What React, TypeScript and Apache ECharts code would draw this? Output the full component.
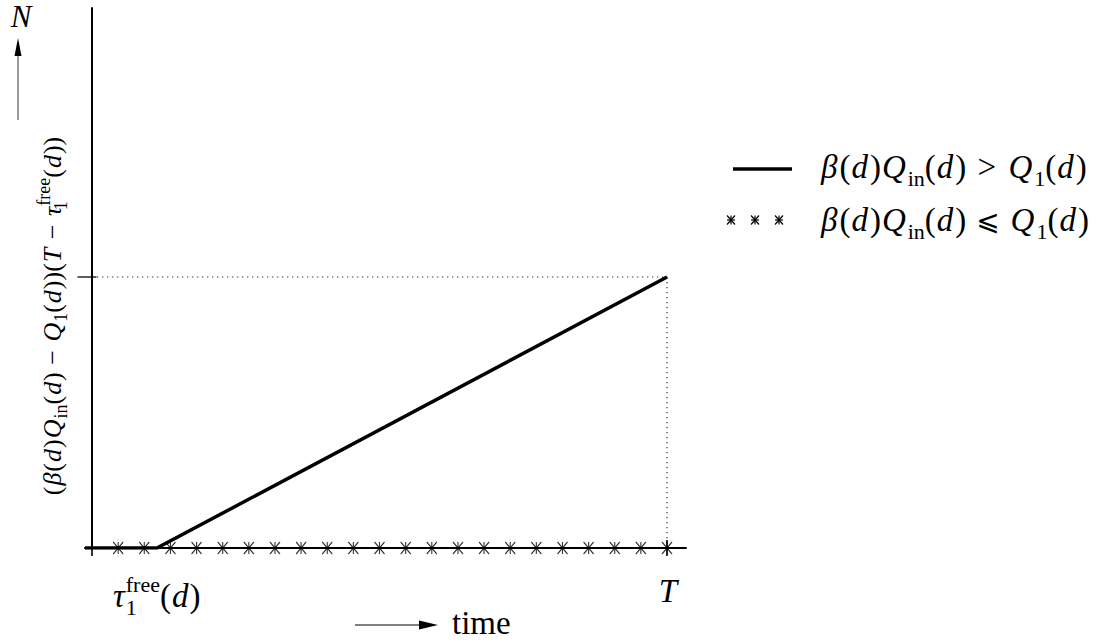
import React, { useEffect, useRef } from "react";
import * as echarts from "echarts";

// ---- data (normalised units: time 0..T, N scaled so that N(T) = 1) ----
const xRange = [-0.0122, 1.033];
const yRange = [0, 1.9926];
const tauFree = 0.113; // tau_1^free(d)
const horizonT = 1; // T
const levelAtT = 1; // (beta Q_in - Q_1)(T - tau)
const solidX = [xRange[0], tauFree, horizonT];
const solidY = [0, 0, levelAtT];
const markerX = [
  0.0455, 0.0909, 0.1364, 0.1818, 0.2273, 0.2727, 0.3182, 0.3636, 0.4091,
  0.4545, 0.5, 0.5455, 0.5909, 0.6364, 0.6818, 0.7273, 0.7727, 0.8182,
  0.8636, 0.9091, 0.9545, 1.0,
];
const markerY = markerX.map(() => 0);
const guideX = [0, horizonT, horizonT];
const guideY = [levelAtT, levelAtT, 0];
const xTicks = [0, horizonT];
const yTicks = [levelAtT];

const F = "Liberation Serif";
const FALLBACK = "DejaVu Sans";
const STAR = "path://M0,0L10,12M10,0L0,12M5,0L5,12M0,6L10,6";

function richFor(fs: number, pad: number[], relPad: number) {
  const H = Math.round(fs * 1.36);
  const small = Math.round(fs * 0.68);
  const sl = Math.round(fs * 0.6);
  return {
    i: { fontFamily: F, fontStyle: "italic", fontSize: fs, lineHeight: H, padding: pad, color: "#000" },
    r: { fontFamily: F, fontSize: fs, lineHeight: H, color: "#000" },
    rel: { fontFamily: F, fontSize: fs, lineHeight: H, padding: [0, relPad, 0, relPad], color: "#000" },
    relx: { fontFamily: FALLBACK, fontSize: Math.round(fs * 0.85), lineHeight: H, padding: [0, relPad, 0, relPad], color: "#000" },
    sub: { fontFamily: F, fontSize: small, lineHeight: sl, verticalAlign: "bottom", color: "#000" },
    subz: { fontFamily: F, fontSize: small, lineHeight: sl, verticalAlign: "bottom", width: 0, color: "#000" },
    sup: { fontFamily: F, fontSize: small, lineHeight: sl, verticalAlign: "top", color: "#000" },
  };
}

function starGroup(cx: number, cy: number, w: number, h: number) {
  const s = { stroke: "#000", lineWidth: 1.2 };
  return [
    { type: "line", shape: { x1: cx - w / 2, y1: cy - h / 2, x2: cx + w / 2, y2: cy + h / 2 }, style: s },
    { type: "line", shape: { x1: cx + w / 2, y1: cy - h / 2, x2: cx - w / 2, y2: cy + h / 2 }, style: s },
    { type: "line", shape: { x1: cx, y1: cy - h / 2, x2: cx, y2: cy + h / 2 }, style: s },
    { type: "line", shape: { x1: cx - w / 2, y1: cy, x2: cx + w / 2, y2: cy }, style: s },
  ];
}

export default function App() {
  const ref = useRef<HTMLDivElement>(null);
  useEffect(() => {
    document.body.style.margin = "0";
    const chart = echarts.init(ref.current!, null, { renderer: "svg" });
    const fs = 33;
    const option: any = {
      animation: false,
      backgroundColor: "#fff",
      grid: { left: 85, top: 8, width: 601, height: 540, containLabel: false },
      xAxis: {
        type: "value",
        min: xRange[0],
        max: xRange[1],
        axisLine: { show: true, onZero: true, lineStyle: { color: "#000", width: 2 } },
        axisTick: { show: false },
        axisLabel: { show: false },
        splitLine: { show: false },
      },
      yAxis: {
        type: "value",
        min: yRange[0],
        max: yRange[1],
        axisLine: { show: true, onZero: true, lineStyle: { color: "#000", width: 2 } },
        axisTick: { show: false },
        axisLabel: { show: false },
        splitLine: { show: false },
      },
      series: [
        {
          name: "guides",
          type: "line",
          data: guideX.map((x, i) => [x, guideY[i]]),
          symbol: "none",
          lineStyle: { color: "#333", width: 1.2, type: [1.3, 3.7] },
          z: 1,
        },
        {
          name: "β(d)Q_in(d) > Q_1(d)",
          type: "line",
          data: solidX.map((x, i) => [x, solidY[i]]),
          symbol: "none",
          lineStyle: { color: "#000", width: 3.5 },
          z: 3,
        },
        {
          name: "β(d)Q_in(d) ⩽ Q_1(d)",
          type: "scatter",
          data: markerX.map((x, i) => [x, markerY[i]]),
          symbol: STAR,
          symbolSize: [10, 12],
          itemStyle: { color: "#000", borderColor: "#000", borderWidth: 1.2 },
          z: 4,
        },
        {
          name: "xticks",
          type: "scatter",
          data: xTicks.map((x) => [x, 0]),
          symbol: "rect",
          symbolSize: [2, 16],
          itemStyle: { color: "#000" },
          z: 5,
        },
        {
          name: "yticks",
          type: "scatter",
          data: yTicks.map((y) => [0, y]),
          symbol: "rect",
          symbolSize: [19, 1.6],
          symbolOffset: [-5, 0],
          itemStyle: { color: "#000" },
          z: 5,
        },
      ],
      graphic: [
        // N arrow
        { type: "text", style: { text: "N", x: 21, y: 16, align: "center", verticalAlign: "middle", fontFamily: F, fontStyle: "italic", fontSize: 31, fill: "#000" } },
        { type: "line", shape: { x1: 18, y1: 120, x2: 18, y2: 52 }, style: { stroke: "#555", lineWidth: 1.2 } },
        { type: "polygon", shape: { points: [[18, 38], [14.5, 56], [21.5, 56]] }, style: { fill: "#000" } },
        // y-axis label (rotated)
        {
          type: "group",
          x: 52,
          y: 316,
          rotation: Math.PI / 2,
          children: [
            {
              type: "text",
              style: {
                text:
                  "{r|(}{i|β}{r|(}{i|d}{r|)}{i|Q}{sub|in}{r|(}{i|d}{r|)}{rel| − }{i|Q}{sub|1}{r|(}{i|d}{r|))(}{i|T}{rel| − }{i|τ}{subz|1}{sup|free}{r|(}{i|d}{r|))}",
                rich: richFor(26, [0, 1, 0, 1], 1),
                x: 0,
                y: 0,
                align: "center",
                verticalAlign: "middle",
              },
            },
          ],
        },
        // tau label
        {
          type: "text",
          style: {
            text: "{i|τ}{subz|1}{sup|free}{r|(}{i|d}{r|)}",
            rich: richFor(fs, [0, 1, 0, 1], 0),
            x: 112,
            y: 596,
            align: "left",
            verticalAlign: "middle",
          },
        },
        // T label
        { type: "text", style: { text: "T", x: 668, y: 591, align: "center", verticalAlign: "middle", fontFamily: F, fontStyle: "italic", fontSize: fs, fill: "#000" } },
        // time arrow
        { type: "line", shape: { x1: 355, y1: 625, x2: 424, y2: 625 }, style: { stroke: "#000", lineWidth: 1.2 } },
        { type: "polygon", shape: { points: [[438, 625], [419, 620.5], [419, 629.5]] }, style: { fill: "#000" } },
        { type: "text", style: { text: "time", x: 452, y: 623, align: "left", verticalAlign: "middle", fontFamily: F, fontSize: fs, fill: "#000" } },
        // legend
        { type: "line", shape: { x1: 733, y1: 169, x2: 792, y2: 169 }, style: { stroke: "#000", lineWidth: 3.5 } },
        {
          type: "text",
          style: {
            text: "{i|β}{r|(}{i|d}{r|)}{i|Q}{sub|in}{r|(}{i|d}{r|)}{rel| > }{i|Q}{sub|1}{r|(}{i|d}{r|)}",
            rich: richFor(fs, [0, 2, 0, 1], 3),
            x: 820,
            y: 167,
            align: "left",
            verticalAlign: "middle",
          },
        },
        { type: "group", children: [...starGroup(731, 220, 8, 9), ...starGroup(755, 220, 8, 9), ...starGroup(779, 220, 8, 9)] },
        {
          type: "text",
          style: {
            text: "{i|β}{r|(}{i|d}{r|)}{i|Q}{sub|in}{r|(}{i|d}{r|)}{relx| ⩽ }{i|Q}{sub|1}{r|(}{i|d}{r|)}",
            rich: richFor(fs, [0, 2, 0, 1], 1),
            x: 820,
            y: 220,
            align: "left",
            verticalAlign: "middle",
          },
        },
      ],
    };
    chart.setOption(option);
    return () => chart.dispose();
  }, []);
  return <div ref={ref} style={{ width: 1099, height: 642 }} />;
}
